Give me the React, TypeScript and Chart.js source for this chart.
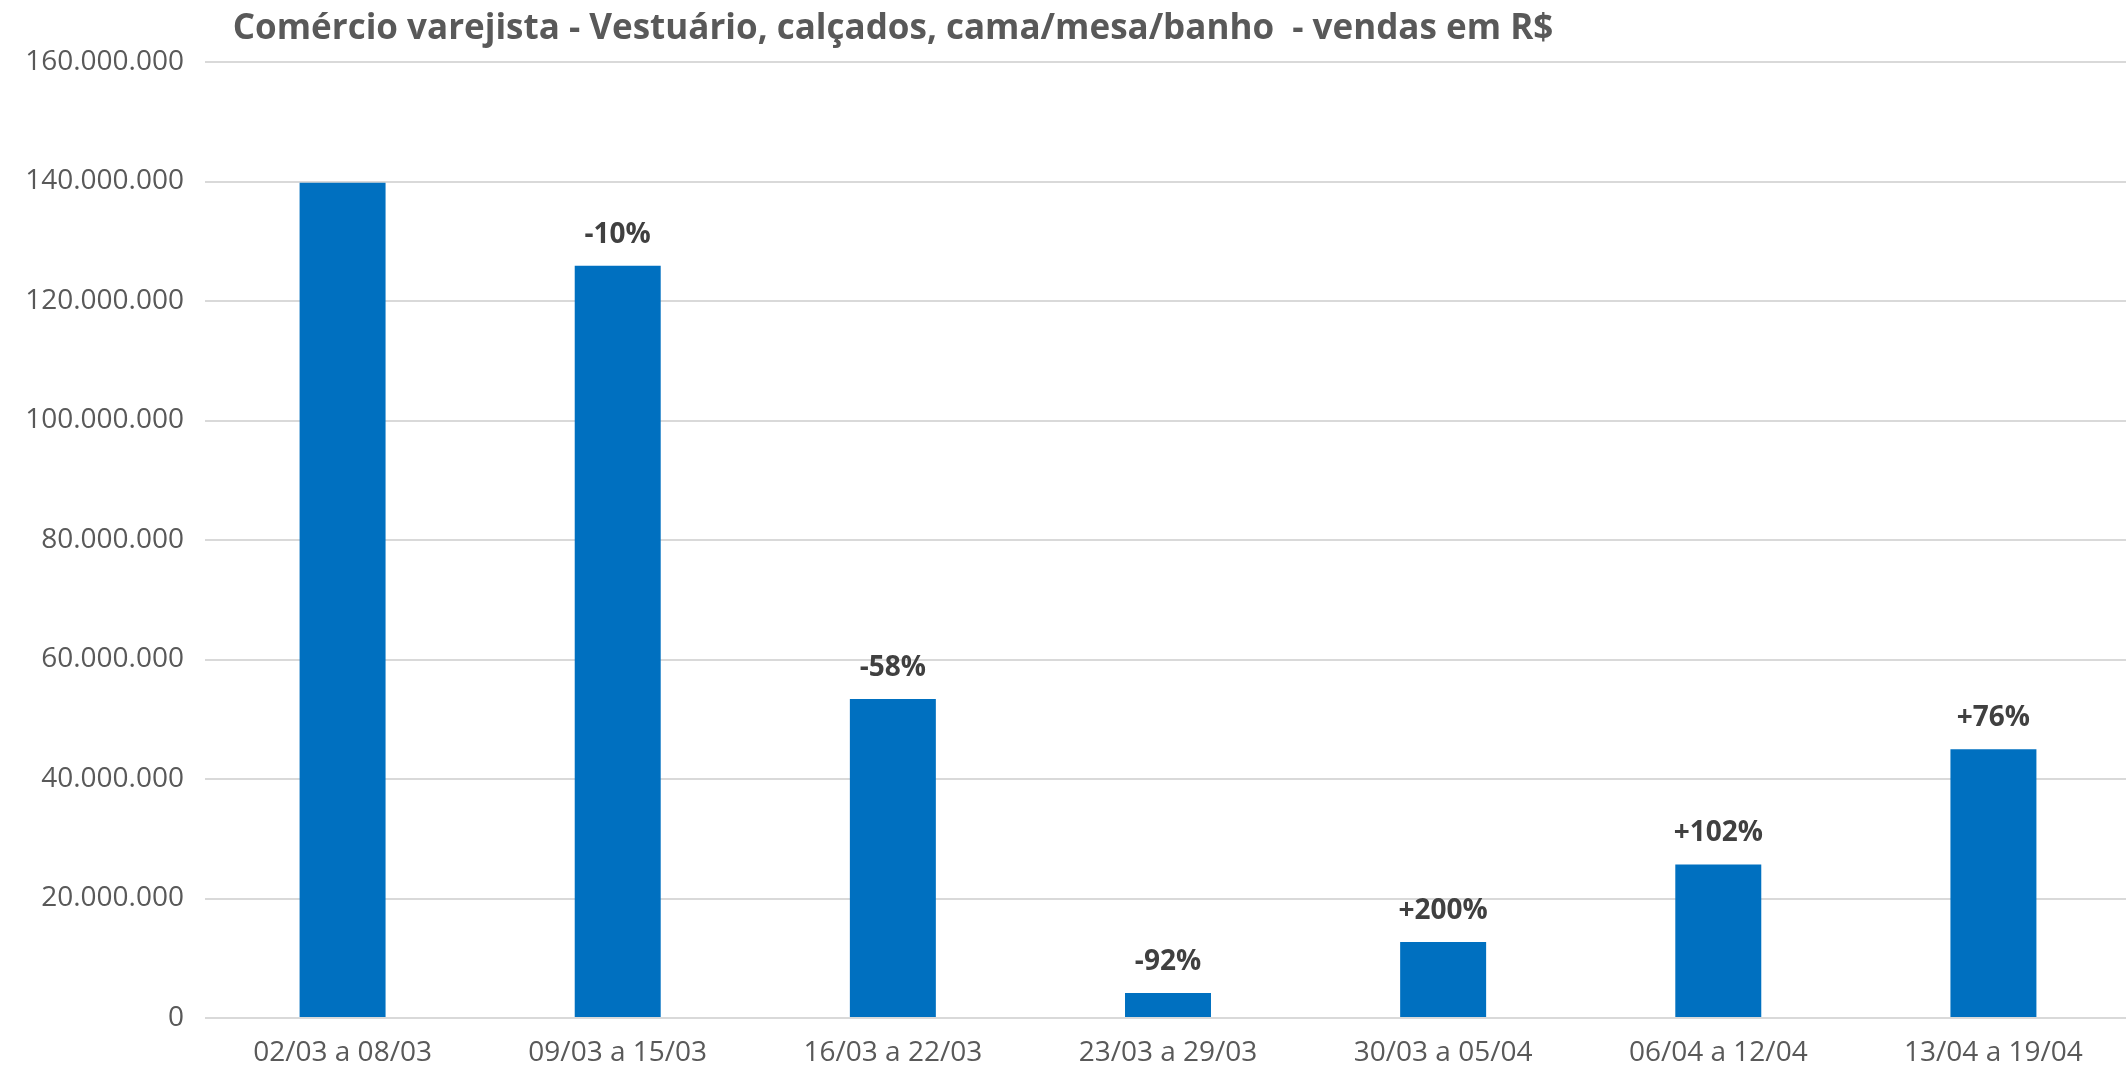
import React, { useEffect, useRef } from "react";
import { Chart, registerables } from "chart.js";

Chart.register(...registerables);

const TITLE = "Comércio varejista - Vestuário, calçados, cama/mesa/banho  - vendas em R$";
const categories = [
  "02/03 a 08/03",
  "09/03 a 15/03",
  "16/03 a 22/03",
  "23/03 a 29/03",
  "30/03 a 05/04",
  "06/04 a 12/04",
  "13/04 a 19/04",
];
const sales = [139800000, 125900000, 53400000, 4200000, 12700000, 25700000, 45000000];
const changeLabels = ["", "-10%", "-58%", "-92%", "+200%", "+102%", "+76%"];
const yTicks = [0, 20000000, 40000000, 60000000, 80000000, 100000000, 120000000, 140000000, 160000000];

const W = 2126;
const H = 1077;
const CANVAS_W = 2131;
const FONT = "'Open Sans', 'Liberation Sans', sans-serif";

function fmt(v: number): string {
  return Math.round(v)
    .toString()
    .replace(/\B(?=(\d{3})+(?!\d))/g, ".");
}

const labelPlugin = {
  id: "changeLabels",
  afterDatasetsDraw(chart: any) {
    const ctx = chart.ctx;
    const meta = chart.getDatasetMeta(0);
    ctx.save();
    ctx.font = `bold 28px ${FONT}`;
    ctx.fillStyle = "#404040";
    ctx.textAlign = "center";
    ctx.textBaseline = "middle";
    meta.data.forEach((el: any, i: number) => {
      const t = changeLabels[i];
      if (!t) return;
      ctx.fillText(t, el.x, el.y - 31);
    });
    ctx.restore();
  },
};

const titlePlugin = {
  id: "customTitle",
  afterDraw(chart: any) {
    const ctx = chart.ctx;
    ctx.save();
    ctx.font = `bold 35px ${FONT}`;
    ctx.fillStyle = "#595959";
    ctx.textAlign = "center";
    ctx.textBaseline = "middle";
    ctx.fillText(TITLE, 893, 29);
    ctx.restore();
  },
};

export default function App() {
  const ref = useRef<HTMLCanvasElement | null>(null);
  useEffect(() => {
    document.body.style.margin = "0";
    document.body.style.overflow = "hidden";
    const canvas = ref.current;
    if (!canvas) return;
    const chart = new Chart(canvas, {
      type: "bar",
      data: {
        labels: categories,
        datasets: [
          {
            data: sales,
            backgroundColor: "#0070C0",
            borderWidth: 0,
            barPercentage: 0.3125,
            categoryPercentage: 1,
          },
        ],
      },
      options: {
        animation: false,
        responsive: false,
        maintainAspectRatio: false,
        layout: { padding: { top: 62, right: 0, bottom: 0, left: 0 } },
        plugins: {
          legend: { display: false },
          title: { display: false },
          tooltip: { enabled: false },
        },
        scales: {
          x: {
            grid: { display: false, drawTicks: false },
            border: { display: false },
            ticks: {
              color: "#595959",
              font: { family: FONT, size: 28 },
              padding: 18,
              maxRotation: 0,
              autoSkip: false,
            },
            afterFit: (axis: any) => {
              axis.height = 59;
            },
          },
          y: {
            min: 0,
            max: 160000000,
            afterBuildTicks: (axis: any) => {
              axis.ticks = yTicks.map((v) => ({ value: v }));
            },
            grid: { color: "#d9d9d9", lineWidth: 2, drawTicks: false },
            border: { display: false },
            ticks: {
              color: "#595959",
              font: { family: FONT, size: 28 },
              padding: 21,
              callback: (v: any) => fmt(Number(v)),
            },
            afterFit: (axis: any) => {
              axis.width = 205;
            },
          },
        },
      },
      plugins: [labelPlugin, titlePlugin],
    });
    return () => chart.destroy();
  }, []);
  return (
    <div style={{ width: W, height: H, background: "#fff", overflow: "hidden" }}>
      <canvas ref={ref} width={CANVAS_W} height={H} style={{ width: CANVAS_W, height: H, display: "block" }} />
    </div>
  );
}
